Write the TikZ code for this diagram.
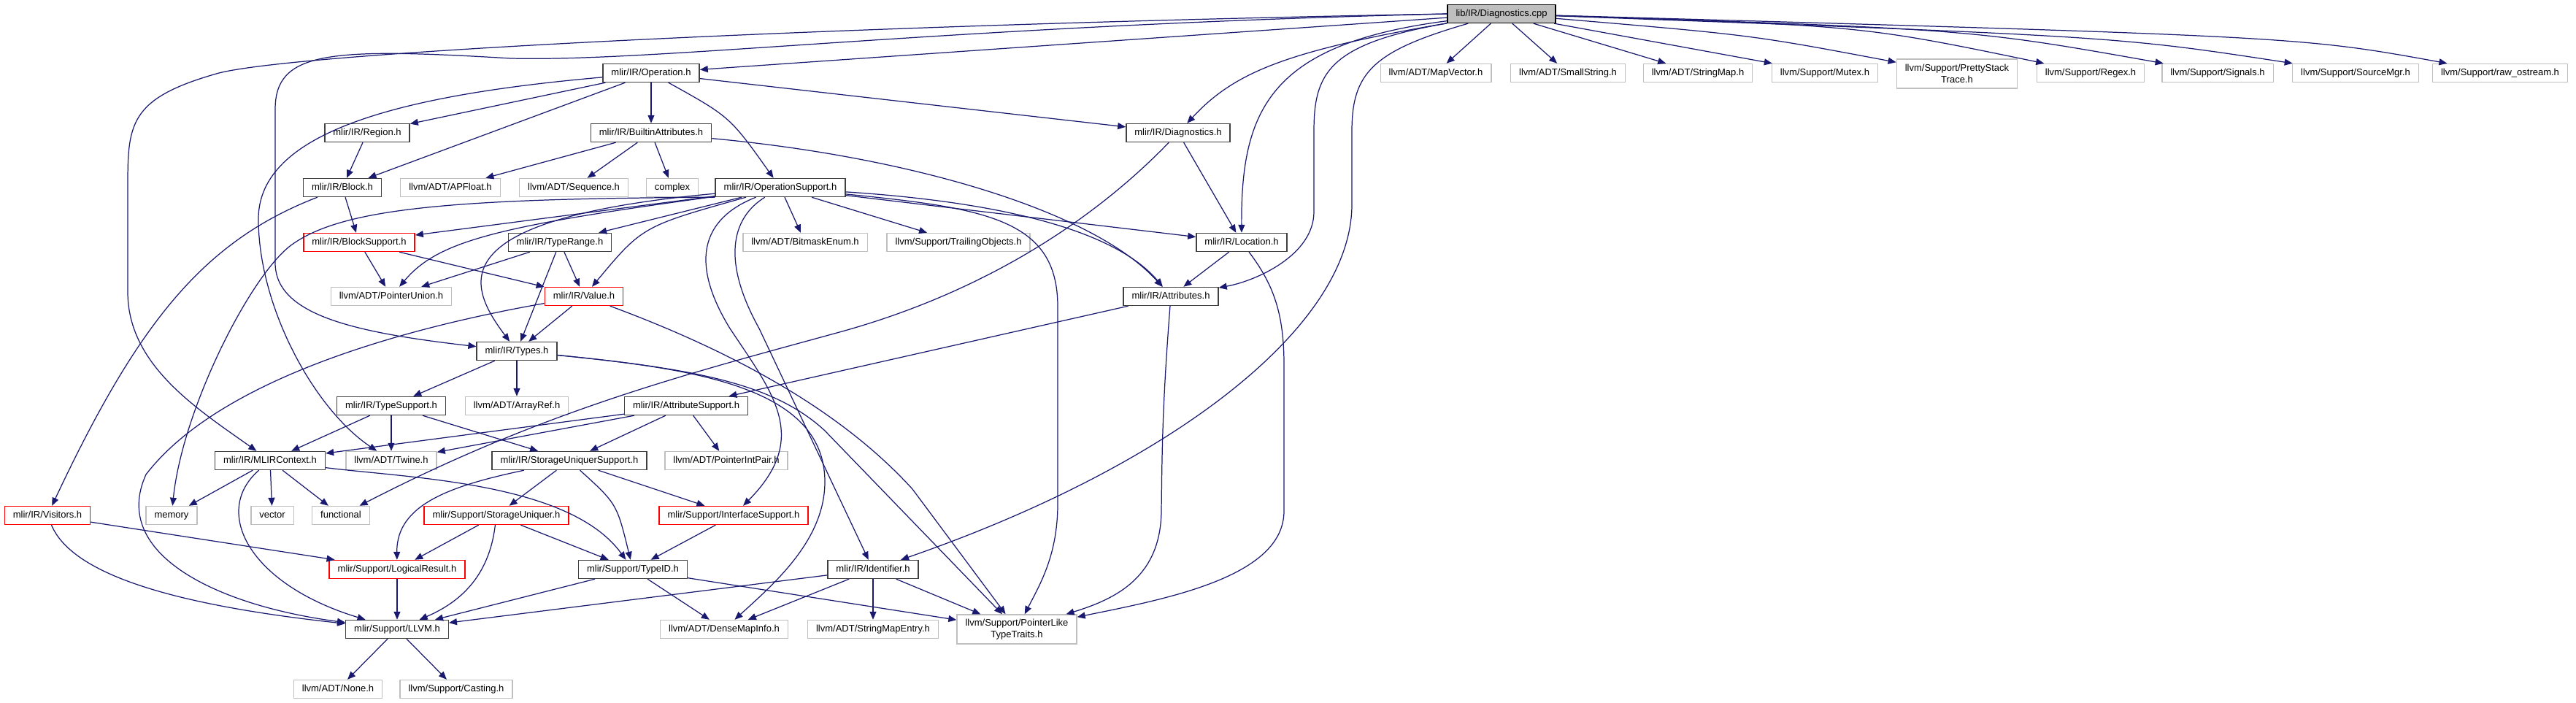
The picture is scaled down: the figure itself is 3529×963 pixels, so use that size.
\documentclass[tikz,border=0pt]{standalone}
\usepackage{fontspec}
\setmainfont{Liberation Sans}
\usepackage{tikz}
\usetikzlibrary{arrows.meta}
\usepackage{xcolor}

\definecolor{edgeblue}{HTML}{191970}
\definecolor{boxgray}{HTML}{BFBFBF}
\definecolor{boxred}{HTML}{FF0000}
\definecolor{boxdark}{HTML}{404040}
\newcommand{\hdrfont}{\fontsize{7.4}{9}\selectfont}

\begin{document}
\begin{tikzpicture}[
    x=0.2mm, y=0.2mm,
    hdrbase/.style={rectangle, draw=boxdark, line width=0.8pt, fill=white, font=\hdrfont, minimum height=5mm, inner xsep=2.3mm, inner ysep=0pt},
    hdr/.style={hdrbase, text height=1.95mm, text depth=0.55mm},
    ext/.style={hdr, draw=boxgray},
    trunc/.style={hdr, draw=boxred},
    src/.style={hdr, draw=black, fill=boxgray},
    exttwo/.style={hdrbase, draw=boxgray, align=center, minimum height=8mm},
    dep/.style={->, draw=edgeblue, line width=0.7pt},
    >={Triangle[length=2.2mm, width=1.8mm]}
]
    \useasboundingbox (0,0) rectangle (3529,-963);

    % source file
    \node[src] (root) at (2057,-19) {lib/IR/Diagnostics.cpp};

    % first row
    \node[hdr] (op) at (892,-100) {mlir/IR/Operation.h};
    \node[ext] (mapvec) at (1967,-100) {llvm/ADT/MapVector.h};
    \node[ext] (smallstr) at (2148,-100) {llvm/ADT/SmallString.h};
    \node[ext] (strmap) at (2326,-100) {llvm/ADT/StringMap.h};
    \node[ext] (mutex) at (2500,-100) {llvm/Support/Mutex.h};
    \node[exttwo] (pretty) at (2681,-101) {llvm/Support/PrettyStack\\Trace.h};
    \node[ext] (regex) at (2864,-100) {llvm/Support/Regex.h};
    \node[ext] (signals) at (3038,-100) {llvm/Support/Signals.h};
    \node[ext] (srcmgr) at (3227,-100) {llvm/Support/SourceMgr.h};
    \node[ext] (rawos) at (3425,-100) {llvm/Support/raw\_ostream.h};

    % IR headers
    \node[hdr] (region) at (503,-182) {mlir/IR/Region.h};
    \node[hdr] (builtin) at (892,-182) {mlir/IR/BuiltinAttributes.h};
    \node[hdr] (diagh) at (1614,-182) {mlir/IR/Diagnostics.h};
    \node[hdr] (block) at (469,-257) {mlir/IR/Block.h};
    \node[ext] (apfloat) at (617,-257) {llvm/ADT/APFloat.h};
    \node[ext] (seq) at (786,-257) {llvm/ADT/Sequence.h};
    \node[ext] (complex) at (921,-257) {complex};
    \node[hdr] (opsup) at (1069,-257) {mlir/IR/OperationSupport.h};
    \node[trunc] (blocksup) at (492,-332) {mlir/IR/BlockSupport.h};
    \node[hdr] (typerange) at (767,-332) {mlir/IR/TypeRange.h};
    \node[ext] (bitmask) at (1103,-332) {llvm/ADT/BitmaskEnum.h};
    \node[ext] (trailing) at (1313,-332) {llvm/Support/TrailingObjects.h};
    \node[hdr] (location) at (1701,-332) {mlir/IR/Location.h};
    \node[ext] (ptrunion) at (536,-406) {llvm/ADT/PointerUnion.h};
    \node[trunc] (value) at (800,-406) {mlir/IR/Value.h};
    \node[hdr] (attrs) at (1604,-406) {mlir/IR/Attributes.h};
    \node[hdr] (types) at (708,-481) {mlir/IR/Types.h};
    \node[hdr] (typesup) at (536,-556) {mlir/IR/TypeSupport.h};
    \node[ext] (arrayref) at (708,-556) {llvm/ADT/ArrayRef.h};
    \node[hdr] (attrsup) at (940,-556) {mlir/IR/AttributeSupport.h};
    \node[hdr] (ctx) at (370,-631) {mlir/IR/MLIRContext.h};
    \node[ext] (twine) at (536,-631) {llvm/ADT/Twine.h};
    \node[hdr] (susup) at (780,-631) {mlir/IR/StorageUniquerSupport.h};
    \node[ext] (ptrintpair) at (995,-631) {llvm/ADT/PointerIntPair.h};

    % support headers
    \node[trunc] (visitors) at (65,-706) {mlir/IR/Visitors.h};
    \node[ext] (memory) at (235,-706) {memory};
    \node[ext] (vector) at (373,-706) {vector};
    \node[ext] (functional) at (467,-706) {functional};
    \node[trunc] (su) at (680,-706) {mlir/Support/StorageUniquer.h};
    \node[trunc] (iface) at (1005,-706) {mlir/Support/InterfaceSupport.h};
    \node[trunc] (logres) at (544,-780) {mlir/Support/LogicalResult.h};
    \node[hdr] (typeid) at (867,-780) {mlir/Support/TypeID.h};
    \node[hdr] (ident) at (1196,-780) {mlir/IR/Identifier.h};
    \node[hdr] (llvmh) at (544,-862) {mlir/Support/LLVM.h};
    \node[ext] (densemap) at (992,-862) {llvm/ADT/DenseMapInfo.h};
    \node[ext] (smentry) at (1196,-862) {llvm/ADT/StringMapEntry.h};
    \node[exttwo] (ptrlike) at (1393,-862) {llvm/Support/PointerLike\\TypeTraits.h};
    \node[ext] (none) at (463,-944) {llvm/ADT/None.h};
    \node[ext] (casting) at (625,-944) {llvm/Support/Casting.h};

    % includes of the source file
    \draw[dep] (root) -- (op);
    \draw[dep] (root.west) .. controls (1200,-33) and (420,-70) .. (300,-100) .. controls (175,-135) and (175,-170) .. (175,-260) -- (175,-400) .. controls (175,-500) and (270,-560) .. (ctx);
    \draw[dep] (root.west) .. controls (1300,-35) and (900,-85) .. (700,-80) .. controls (450,-65) and (377,-70) .. (377,-150) -- (377,-360) .. controls (377,-430) and (480,-455) .. (types);
    \draw[dep] (root) .. controls (1760,-70) and (1690,-100) .. (diagh);
    \draw[dep] (root) .. controls (1740,-60) and (1700,-150) .. (location);
    \draw[dep] (root) .. controls (1820,-60) and (1800,-100) .. (1800,-180) -- (1800,-290) .. controls (1800,-350) and (1720,-385) .. (attrs);
    \draw[dep] (root) .. controls (1880,-70) and (1852,-100) .. (1852,-180) -- (1852,-280) .. controls (1852,-450) and (1600,-640) .. (ident);
    \draw[dep] (root) -- (mapvec);
    \draw[dep] (root) -- (smallstr);
    \draw[dep] (root) -- (strmap);
    \draw[dep] (root) -- (mutex);
    \draw[dep] (root) .. controls (2400,-48) .. (pretty);
    \draw[dep] (root) .. controls (2550,-35) .. (regex);
    \draw[dep] (root) .. controls (2700,-40) .. (signals);
    \draw[dep] (root) .. controls (2900,-50) .. (srcmgr);
    \draw[dep] (root) .. controls (3150,-50) .. (rawos);

    % Operation.h
    \draw[dep] (op) -- (region);
    \draw[dep] (op) -- (block);
    \draw[dep] (op) .. controls (550,-130) and (354,-180) .. (354,-300) .. controls (354,-420) and (430,-560) .. (twine);
    \draw[dep] (op) -- (builtin);
    \draw[dep] (op) .. controls (1000,-160) .. (opsup);
    \draw[dep] (op) -- (diagh);
    \draw[dep] (region) -- (block);
    \draw[dep] (block) -- (blocksup);
    \draw[dep] (block) .. controls (280,-330) and (190,-440) .. (visitors);
    \draw[dep] (builtin) -- (apfloat);
    \draw[dep] (builtin) -- (seq);
    \draw[dep] (builtin) -- (complex);
    \draw[dep] (builtin) .. controls (1250,-215) and (1500,-290) .. (attrs);

    % OperationSupport.h
    \draw[dep] (opsup.south west) .. controls (620,-272) and (470,-285) .. (400,-335) .. controls (344,-375) and (250,-560) .. (memory);
    \draw[dep] (opsup) -- (blocksup);
    \draw[dep] (opsup) .. controls (680,-310) and (600,-330) .. (ptrunion);
    \draw[dep] (opsup) .. controls (600,-300) and (640,-390) .. (types);
    \draw[dep] (opsup) -- (typerange);
    \draw[dep] (opsup) .. controls (880,-310) .. (value);
    \draw[dep] (opsup) .. controls (960,-300) and (945,-360) .. (1000,-450) .. controls (1060,-540) and (1110,-600) .. (iface);
    \draw[dep] (opsup) .. controls (1000,-300) and (990,-360) .. (1040,-450) -- (ident);
    \draw[dep] (opsup) -- (bitmask);
    \draw[dep] (opsup) -- (trailing);
    \draw[dep] (opsup) -- (location);
    \draw[dep] (opsup) .. controls (1420,-280) and (1540,-330) .. (attrs);
    \draw[dep] (opsup) .. controls (1350,-285) and (1449,-300) .. (1449,-420) -- (1449,-690) .. controls (1449,-760) and (1425,-800) .. (ptrlike);

    % Diagnostics.h, Location.h, Attributes.h
    \draw[dep] (diagh) -- (location);
    \draw[dep] (diagh) .. controls (1500,-300) and (1350,-400) .. (1150,-455) .. controls (950,-510) and (750,-560) .. (functional);
    \draw[dep] (location) -- (attrs);
    \draw[dep] (location) .. controls (1745,-390) and (1759,-430) .. (1759,-500) -- (1759,-700) .. controls (1759,-790) and (1600,-820) .. (ptrlike);
    \draw[dep] (attrs) -- (attrsup);
    \draw[dep] (attrs) .. controls (1592,-560) and (1592,-620) .. (1591,-700) .. controls (1590,-790) and (1530,-820) .. (ptrlike);

    % Block / Type / Value
    \draw[dep] (blocksup) -- (ptrunion);
    \draw[dep] (blocksup) -- (value);
    \draw[dep] (typerange) -- (ptrunion);
    \draw[dep] (typerange) -- (types);
    \draw[dep] (typerange) -- (value);
    \draw[dep] (value) -- (types);
    \draw[dep] (value) .. controls (550,-450) and (300,-520) .. (200,-650) .. controls (150,-760) and (300,-830) .. (llvmh);
    \draw[dep] (value) .. controls (1000,-480) and (1150,-560) .. (1250,-670) -- (ptrlike);
    \draw[dep] (types) -- (typesup);
    \draw[dep] (types) -- (arrayref);
    \draw[dep] (types) .. controls (950,-505) and (1130,-530) .. (1130,-660) .. controls (1130,-740) and (1060,-800) .. (densemap);
    \draw[dep] (types) .. controls (950,-505) and (1060,-525) .. (1130,-590) -- (ptrlike);
    \draw[dep] (typesup) -- (ctx);
    \draw[dep] (typesup) -- (twine);
    \draw[dep] (typesup) -- (susup);
    \draw[dep] (attrsup) -- (susup);
    \draw[dep] (attrsup) -- (ptrintpair);
    \draw[dep] (attrsup) -- (ctx);
    \draw[dep] (attrsup) -- (twine);

    % MLIRContext.h and storage
    \draw[dep] (ctx) -- (memory);
    \draw[dep] (ctx) -- (vector);
    \draw[dep] (ctx) -- (functional);
    \draw[dep] (ctx) .. controls (290,-700) and (340,-800) .. (llvmh);
    \draw[dep] (ctx) .. controls (560,-655) and (780,-660) .. (typeid);
    \draw[dep] (susup) -- (su);
    \draw[dep] (susup) .. controls (845,-690) .. (typeid);
    \draw[dep] (susup) -- (iface);
    \draw[dep] (susup) .. controls (620,-665) and (543,-690) .. (logres);
    \draw[dep] (su) -- (typeid);
    \draw[dep] (su) -- (logres);
    \draw[dep] (su) .. controls (670,-790) and (630,-825) .. (llvmh);
    \draw[dep] (iface) -- (typeid);
    \draw[dep] (visitors) -- (logres);
    \draw[dep] (visitors) .. controls (100,-790) and (250,-830) .. (llvmh);
    \draw[dep] (logres) -- (llvmh);

    % bottom rows
    \draw[dep] (typeid) -- (llvmh);
    \draw[dep] (typeid) -- (densemap);
    \draw[dep] (typeid) -- (ptrlike);
    \draw[dep] (ident) -- (llvmh);
    \draw[dep] (ident) -- (densemap);
    \draw[dep] (ident) -- (smentry);
    \draw[dep] (ident) -- (ptrlike);
    \draw[dep] (llvmh) -- (none);
    \draw[dep] (llvmh) -- (casting);
\end{tikzpicture}
\end{document}
